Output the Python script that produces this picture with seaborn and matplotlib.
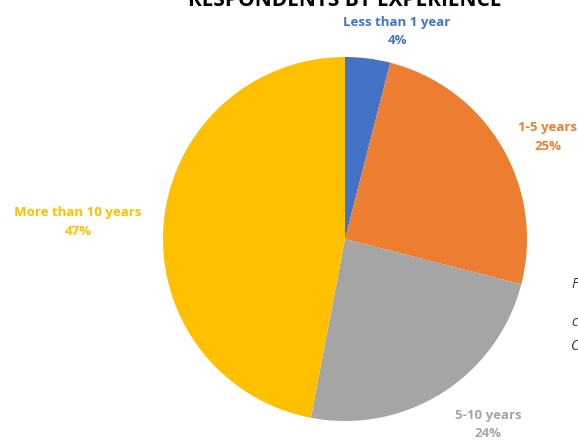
import matplotlib
matplotlib.use("Agg")
import matplotlib.pyplot as plt
import seaborn as sns

sns.set_theme(style="white")
plt.rcParams['font.family'] = ['Open Sans', 'DejaVu Sans']

categories = ["Less than 1 year", "1-5 years", "5-10 years", "More than 10 years"]
shares = [4, 25, 24, 47]
colors = ["#4472C4", "#ED7D31", "#A5A5A5", "#FFC000"]
label_pos = [(0.286, 1.14), (1.115, 0.56), (0.786, -1.02), (-1.467, 0.093)]

fig = plt.figure(figsize=(5.78, 4.41), dpi=100)
ax = fig.add_axes([163/578, 20/441, 364/578, 364/441])
ax.pie(shares, colors=colors, startangle=90, counterclock=False, radius=1,
       wedgeprops=dict(linewidth=0))
ax.set_xlim(-1, 1)
ax.set_ylim(-1, 1)
ax.set_aspect('auto')
ax.axis('off')

for cat, val, col, (x, y) in zip(categories, shares, colors, label_pos):
    ax.text(x, y, f"{cat}\n{val}%", ha='center', va='center', color=col,
            fontsize=9.5, fontweight='bold', linespacing=1.55, clip_on=False)

fig.text(345/578, 1.0, "RESPONDENTS BY EXPERIENCE", ha='center', va='center',
         fontsize=15, fontweight='bold', color='black')

for yy, t in [(285, "F"), (322, "c"), (347, "C")]:
    fig.text(571/578, 1 - yy/441, t, ha='left', va='center', fontsize=10,
             style='italic', color='#333333')

fig.savefig("out.png", dpi=100)
